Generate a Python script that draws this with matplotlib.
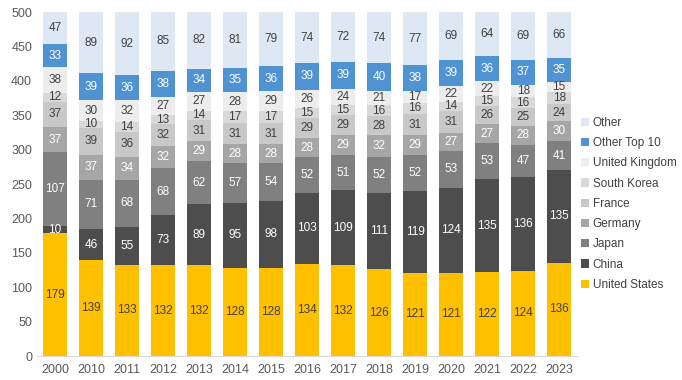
import numpy as np
import matplotlib.pyplot as plt
from matplotlib.patches import Patch

plt.rcParams['font.family'] = ['Liberation Sans', 'DejaVu Sans']

# data (bottom to top of each stack)
years = ["2000", "2010", "2011", "2012", "2013", "2014", "2015", "2016",
         "2017", "2018", "2019", "2020", "2021", "2022", "2023"]

united_states = [179, 139, 133, 132, 132, 128, 128, 134, 132, 126, 121, 121, 122, 124, 136]
china = [10, 46, 55, 73, 89, 95, 98, 103, 109, 111, 119, 124, 135, 136, 135]
japan = [107, 71, 68, 68, 62, 57, 54, 52, 51, 52, 52, 53, 53, 47, 41]
germany = [37, 37, 34, 32, 29, 28, 28, 28, 29, 32, 29, 27, 27, 28, 30]
france = [37, 39, 36, 32, 31, 31, 31, 29, 29, 28, 31, 31, 26, 25, 24]
south_korea = [12, 10, 14, 13, 14, 17, 17, 15, 15, 16, 16, 14, 15, 16, 18]
united_kingdom = [38, 30, 32, 27, 27, 28, 29, 26, 24, 21, 17, 22, 22, 18, 15]
other_top10 = [33, 39, 36, 38, 34, 35, 36, 39, 39, 40, 38, 39, 36, 37, 35]
other = [47, 89, 92, 85, 82, 81, 79, 74, 72, 74, 77, 69, 64, 69, 66]

series_names = ["United States", "China", "Japan", "Germany", "France",
                "South Korea", "United Kingdom", "Other Top 10", "Other"]
series = [united_states, china, japan, germany, france,
          south_korea, united_kingdom, other_top10, other]
colors = ["#ffc000", "#4d4d4d", "#808080", "#a6a6a6", "#c8c8c8",
          "#d9d9d9", "#ededed", "#4f93d2", "#dde8f4"]
label_colors = ["#404040", "white", "white", "white", "#404040",
                "#404040", "#404040", "white", "#404040"]

fig = plt.figure(figsize=(6.82, 3.80), dpi=100)
ax = fig.add_axes([0.0543, 0.063, 0.792, 0.905])

x = np.arange(len(years))
bottom = np.zeros(len(years))
for name, vals, col, lcol in zip(series_names, series, colors, label_colors):
    vals = np.array(vals, dtype=float)
    bars = ax.bar(x, vals, 0.667, bottom=bottom, color=col, label=name)
    ax.bar_label(bars, labels=[str(int(v)) for v in vals], label_type='center',
                 color=lcol, fontsize=8.5)
    bottom += vals

ax.set_xlim(-0.5, len(years) - 0.5)
ax.set_ylim(0, 500)
ax.set_yticks(np.arange(0, 501, 50))
ax.set_xticks(x)
ax.set_xticklabels(years)
ax.tick_params(axis='both', length=0, labelsize=9, colors="#595959")
ax.tick_params(axis='x', pad=6)

for s in ["top", "right", "left"]:
    ax.spines[s].set_visible(False)
ax.spines["bottom"].set_color("#d9d9d9")

handles = [Patch(facecolor=c) for c in colors][::-1]
leg = fig.legend(handles, series_names[::-1], loc="upper left",
                 bbox_to_anchor=(0.845, 0.705), frameon=False,
                 fontsize=8.5, handlelength=0.7, handleheight=0.7,
                 handletextpad=0.3, labelspacing=0.7, borderaxespad=0)
for t in leg.get_texts():
    t.set_color("#404040")

fig.savefig("out.png", dpi=100)
